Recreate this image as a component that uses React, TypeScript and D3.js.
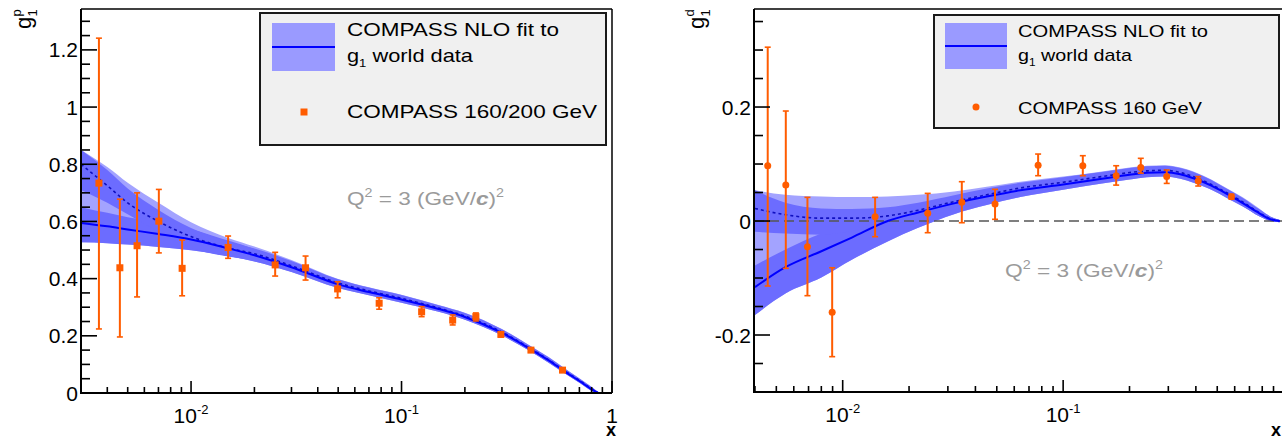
import React from 'react';
import * as d3 from 'd3';

const W = 1282;
const H = 440;

// ---------------- Left panel: g1 proton ----------------
const pX = [0.00365, 0.00459, 0.00554, 0.00703, 0.00907, 0.0150, 0.0251, 0.0350, 0.0497, 0.0783, 0.1246, 0.175, 0.2255, 0.2965, 0.412, 0.582];
const pY = [0.734, 0.438, 0.515, 0.601, 0.436, 0.509, 0.448, 0.438, 0.364, 0.314, 0.284, 0.255, 0.267, 0.205, 0.150, 0.080];
const pHi = [1.241, 0.678, 0.700, 0.712, 0.535, 0.549, 0.492, 0.479, 0.389, 0.333, 0.302, 0.273, 0.280, 0.214, 0.157, 0.085];
const pLo = [0.224, 0.196, 0.336, 0.490, 0.340, 0.471, 0.409, 0.395, 0.333, 0.293, 0.267, 0.238, 0.252, 0.196, 0.143, 0.075];

const pFitX = [0.003, 0.004, 0.005, 0.007, 0.01, 0.015, 0.02, 0.03, 0.05, 0.07, 0.1, 0.15, 0.2, 0.3, 0.4, 0.5, 0.6, 0.7, 0.8, 0.86];
const pSolid = [0.595, 0.583, 0.572, 0.556, 0.537, 0.506, 0.482, 0.44, 0.38, 0.353, 0.327, 0.294, 0.266, 0.21, 0.158, 0.114, 0.074, 0.042, 0.013, 0.0];
const pSolidLo = [0.527, 0.524, 0.519, 0.511, 0.499, 0.479, 0.46, 0.423, 0.367, 0.342, 0.316, 0.284, 0.256, 0.201, 0.15, 0.106, 0.067, 0.036, 0.008, -0.002];
const pSolidHi = [0.65, 0.63, 0.615, 0.597, 0.573, 0.533, 0.504, 0.457, 0.393, 0.364, 0.338, 0.304, 0.276, 0.219, 0.166, 0.122, 0.081, 0.048, 0.019, 0.003];
const pDashed = [0.80, 0.725, 0.665, 0.60, 0.547, 0.507, 0.487, 0.445, 0.385, 0.357, 0.331, 0.297, 0.269, 0.213, 0.16, 0.116, 0.076, 0.044, 0.015, 0.0];
const pDashedLo = [0.71, 0.665, 0.625, 0.565, 0.507, 0.477, 0.462, 0.425, 0.37, 0.344, 0.319, 0.286, 0.258, 0.203, 0.151, 0.107, 0.068, 0.037, 0.008, -0.002];
const pDashedHi = [0.85, 0.78, 0.715, 0.64, 0.577, 0.53, 0.505, 0.462, 0.398, 0.369, 0.343, 0.307, 0.28, 0.223, 0.169, 0.125, 0.084, 0.051, 0.021, 0.003];
const pEnvHi = [0.85, 0.79, 0.735, 0.665, 0.597, 0.542, 0.512, 0.465, 0.399, 0.37, 0.344, 0.308, 0.281, 0.224, 0.17, 0.126, 0.085, 0.052, 0.022, 0.003];

const pYTicks = [0, 0.2, 0.4, 0.6, 0.8, 1, 1.2];
const pYLabels = ['0', '0.2', '0.4', '0.6', '0.8', '1', '1.2'];

// ---------------- Right panel: g1 deuteron ----------------
const dX = [0.00457, 0.00552, 0.00692, 0.00896, 0.01403, 0.0243, 0.0347, 0.0491, 0.077, 0.1228, 0.174, 0.225, 0.295, 0.41, 0.58];
const dY = [0.097, 0.063, -0.045, -0.160, 0.0076, 0.0135, 0.0328, 0.0298, 0.098, 0.097, 0.0795, 0.094, 0.078, 0.070, 0.0427];
const dHi = [0.305, 0.193, 0.0415, -0.082, 0.0415, 0.0485, 0.069, 0.0556, 0.1175, 0.1146, 0.097, 0.11, 0.0895, 0.078, 0.047];
const dLo = [-0.114, -0.083, -0.131, -0.238, -0.0275, -0.0205, -0.003, 0.003, 0.0795, 0.0795, 0.063, 0.084, 0.066, 0.0614, 0.0385];

const dFitX = [0.004, 0.0055, 0.008, 0.011, 0.016, 0.022, 0.032, 0.045, 0.064, 0.1, 0.15, 0.2, 0.24, 0.29, 0.34, 0.39, 0.47, 0.55, 0.65, 0.78, 0.87, 0.96];
const dSolid = [-0.116, -0.081, -0.053, -0.029, 0.0, 0.015, 0.031, 0.043, 0.054, 0.064, 0.074, 0.081, 0.0845, 0.0855, 0.082, 0.075, 0.062, 0.048, 0.032, 0.013, 0.003, 0.0];
const dSolidLo = [-0.165, -0.127, -0.099, -0.068, -0.036, -0.012, 0.012, 0.028, 0.042, 0.055, 0.066, 0.073, 0.077, 0.078, 0.074, 0.067, 0.055, 0.041, 0.026, 0.008, 0.0, -0.002];
const dSolidHi = [-0.078, -0.05, -0.022, -0.004, 0.018, 0.03, 0.042, 0.052, 0.062, 0.072, 0.081, 0.088, 0.092, 0.093, 0.089, 0.082, 0.069, 0.055, 0.038, 0.018, 0.007, 0.002];
const dDashed = [0.022, 0.011, 0.005, 0.005, 0.009, 0.019, 0.034, 0.046, 0.058, 0.068, 0.078, 0.085, 0.088, 0.089, 0.085, 0.078, 0.064, 0.05, 0.034, 0.014, 0.004, 0.0];
const dDashedLo = [-0.019, -0.022, -0.024, -0.018, -0.008, 0.004, 0.02, 0.034, 0.047, 0.059, 0.07, 0.077, 0.08, 0.081, 0.077, 0.07, 0.057, 0.043, 0.027, 0.008, 0.0, -0.002];
const dDashedHi = [0.054, 0.032, 0.022, 0.021, 0.024, 0.032, 0.045, 0.057, 0.067, 0.077, 0.086, 0.093, 0.096, 0.097, 0.093, 0.086, 0.072, 0.057, 0.041, 0.02, 0.008, 0.002];
const dEnvHi = [0.054, 0.046, 0.043, 0.042, 0.043, 0.046, 0.052, 0.06, 0.069, 0.078, 0.087, 0.094, 0.097, 0.098, 0.094, 0.087, 0.073, 0.058, 0.042, 0.021, 0.008, 0.002];

const dYTicks = [-0.2, 0, 0.2];
const dYLabels = ['-0.2', '0', '0.2'];

const xTickLabels = [
  { v: 0.01, base: '10', exp: '-2' },
  { v: 0.1, base: '10', exp: '-1' },
  { v: 1, base: '1', exp: '' },
];

const FONT = '"Liberation Sans", Arial, Helvetica, sans-serif';
const ORANGE = '#ff5c00';
const BAND = '#6c6cff';
const BAND_LIGHT = '#a3a3ff';
const LEG_SWATCH = '#9a9aff';
const LINE_BLUE = '#0000ff';
const DASH_BLUE = '#1010c0';
const GREY = '#9a9a9a';

type Cfg = {
  id: string;
  x0: number; x1: number; y0: number; y1: number;
  xDomain: [number, number]; yDomain: [number, number];
  yTicks: number[]; yLabels: string[]; yMinorStep: number;
  title: string;
  titleX: number;
  px: number[]; py: number[]; pHi: number[]; pLo: number[];
  marker: 'square' | 'circle';
  fitX: number[]; solid: number[]; solidLo: number[]; solidHi: number[];
  dashed: number[]; dashedLo: number[]; dashedHi: number[]; envHi: number[];
  zeroLine: boolean;
  legend: { x: number; y: number; w: number; h: number; fs: number; sw: [number, number, number, number];
    tx: number; b1: number; b2: number; b3: number; my: number; mx: number; l1: number; l2: number; l3: number; label3: string };
  q2: { x: number; y: number; len: number };
};

const leftCfg: Cfg = {
  id: 'L', x0: 81, x1: 612, y0: 9, y1: 393,
  xDomain: [0.003, 1], yDomain: [0, 1.343],
  yTicks: pYTicks, yLabels: pYLabels, yMinorStep: 0.05,
  title: 'p', titleX: 31,
  px: pX, py: pY, pHi: pHi, pLo: pLo, marker: 'square',
  fitX: pFitX, solid: pSolid, solidLo: pSolidLo, solidHi: pSolidHi,
  dashed: pDashed, dashedLo: pDashedLo, dashedHi: pDashedHi, envHi: pEnvHi,
  zeroLine: false,
  legend: { x: 260, y: 13, w: 346, h: 132, fs: 18.5, sw: [272, 23, 63, 48], tx: 347, b1: 36, b2: 62, b3: 118,
    my: 112, mx: 304, l1: 212, l2: 126, l3: 250, label3: 'COMPASS 160/200 GeV' },
  q2: { x: 347, y: 205, len: 157 },
};

const rightCfg: Cfg = {
  id: 'R', x0: 754, x1: 1283.6, y0: 9, y1: 392,
  xDomain: [0.00396, 1], yDomain: [-0.3, 0.372],
  yTicks: dYTicks, yLabels: dYLabels, yMinorStep: 0.05,
  title: 'd', titleX: 704,
  px: dX, py: dY, pHi: dHi, pLo: dLo, marker: 'circle',
  fitX: dFitX, solid: dSolid, solidLo: dSolidLo, solidHi: dSolidHi,
  dashed: dDashed, dashedLo: dDashedLo, dashedHi: dDashedHi, envHi: dEnvHi,
  zeroLine: true,
  legend: { x: 934, y: 15, w: 345, h: 113, fs: 17, sw: [945, 23, 62, 46], tx: 1018, b1: 37, b2: 61, b3: 114,
    my: 107, mx: 976, l1: 190, l2: 114, l3: 184, label3: 'COMPASS 160 GeV' },
  q2: { x: 1005, y: 277, len: 158 },
};

function Panel({ c }: { c: Cfg }) {
  const xs = d3.scaleLog().domain(c.xDomain).range([c.x0, c.x1]);
  const ys = d3.scaleLinear().domain(c.yDomain).range([c.y1, c.y0]);
  const fit = c.fitX.map((x, i) => ({
    x, s: c.solid[i], sLo: c.solidLo[i], sHi: c.solidHi[i],
    d: c.dashed[i], dLo: c.dashedLo[i], dHi: c.dashedHi[i], eHi: c.envHi[i],
  }));
  const area = (lo: string, hi: string) =>
    d3.area<any>().x((d) => xs(d.x)).y0((d) => ys(d[lo])).y1((d) => ys(d[hi])).curve(d3.curveMonotoneX)(fit) || '';
  const line = (k: string) =>
    d3.line<any>().x((d) => xs(d.x)).y((d) => ys(d[k])).curve(d3.curveMonotoneX)(fit) || '';

  const clipId = 'clip' + c.id;
  const rightEdge = Math.min(c.x1, W);
  const xTicks = xs.ticks().filter((v) => v >= c.xDomain[0] * 0.999 && v <= c.xDomain[1] * 1.001);
  const isMajor = (v: number) => Math.abs(Math.log10(v) - Math.round(Math.log10(v))) < 1e-6;
  const yMinor = d3.range(Math.ceil(c.yDomain[0] / c.yMinorStep - 1e-6), Math.floor(c.yDomain[1] / c.yMinorStep + 1e-6) + 1)
    .map((k) => k * c.yMinorStep);
  const L = c.legend;

  return (
    <g>
      <defs>
        <clipPath id={clipId}>
          <rect x={c.x0} y={c.y0} width={rightEdge - c.x0} height={c.y1 - c.y0} />
        </clipPath>
      </defs>
      <g clipPath={`url(#${clipId})`}>
        <path d={area('sLo', 'eHi')} fill={BAND_LIGHT} />
        <path d={area('sLo', 'sHi')} fill={BAND} />
        <path d={area('dLo', 'dHi')} fill={BAND} />
        {c.zeroLine && (
          <line x1={c.x0} x2={rightEdge} y1={ys(0)} y2={ys(0)} stroke="#555" strokeWidth={1.6} strokeDasharray="10,5" />
        )}
        <path d={line('d')} fill="none" stroke={DASH_BLUE} strokeWidth={1.6} strokeDasharray="3,3" />
        <path d={line('s')} fill="none" stroke={LINE_BLUE} strokeWidth={2} />
        {c.px.map((x, i) => {
          const cx = xs(x);
          return (
            <g key={i}>
              <line x1={cx} x2={cx} y1={ys(c.pHi[i])} y2={ys(c.pLo[i])} stroke={ORANGE} strokeWidth={2} />
              <line x1={cx - 3} x2={cx + 3} y1={ys(c.pHi[i])} y2={ys(c.pHi[i])} stroke={ORANGE} strokeWidth={1.6} />
              <line x1={cx - 3} x2={cx + 3} y1={ys(c.pLo[i])} y2={ys(c.pLo[i])} stroke={ORANGE} strokeWidth={1.6} />
              {c.marker === 'square' ? (
                <rect x={cx - 3.5} y={ys(c.py[i]) - 3.5} width={7} height={7} fill={ORANGE} />
              ) : (
                <circle cx={cx} cy={ys(c.py[i])} r={3.5} fill={ORANGE} />
              )}
            </g>
          );
        })}
      </g>

      {/* frame */}
      <line x1={c.x0} x2={rightEdge} y1={c.y0} y2={c.y0} stroke="#000" strokeWidth={1.5} />
      {c.x1 <= W && <line x1={c.x1} x2={c.x1} y1={c.y0} y2={c.y1} stroke="#000" strokeWidth={1.5} />}
      <line x1={c.x0} x2={c.x0} y1={c.y0} y2={c.y1 + 1} stroke="#000" strokeWidth={2} />
      <line x1={c.x0} x2={rightEdge} y1={c.y1} y2={c.y1} stroke="#000" strokeWidth={2} />

      {/* y ticks */}
      {yMinor.map((v, i) => {
        const major = c.yTicks.some((t) => Math.abs(t - v) < 1e-6);
        return <line key={i} x1={c.x0} x2={c.x0 + (major ? 16 : 9)} y1={ys(v)} y2={ys(v)} stroke="#000" strokeWidth={1.6} />;
      })}
      {c.yTicks.map((v, i) => (
        <text key={i} x={c.x0 - 3} y={ys(v) + 7.5} textAnchor="end" fontSize={21} fill="#000">{c.yLabels[i]}</text>
      ))}

      {/* x ticks */}
      {xTicks.map((v, i) => (
        <line key={i} x1={xs(v)} x2={xs(v)} y1={c.y1} y2={c.y1 - (isMajor(v) ? 12 : 6)} stroke="#000" strokeWidth={1.6} />
      ))}
      {xTickLabels.map((t, i) => {
        const cx = xs(t.v);
        if (cx > W - 4) return null;
        return (
          <text key={i} x={cx} y={c.y1 + 30} textAnchor="middle" fontSize={21} fill="#000">
            {t.base}
            {t.exp && <tspan fontSize={13} dy={-9}>{t.exp}</tspan>}
          </text>
        );
      })}
      <text x={Math.min(c.x1 + 4, W - 1)} y={436} textAnchor="end" fontSize={18} fontWeight="bold" fill="#000">x</text>

      {/* y title */}
      <g transform={`translate(${c.titleX},29) rotate(-90)`}>
        <text x={0} y={0} fontSize={22} fill="#000">g</text>
        <text x={12.5} y={6} fontSize={13} fill="#000">1</text>
        <text x={12.5} y={-10} fontSize={13} fill="#000">{c.title}</text>
      </g>

      {/* Q2 label */}
      <text x={c.q2.x} y={c.q2.y} fontSize={19} fill={GREY} textLength={c.q2.len} lengthAdjust="spacingAndGlyphs">
        Q<tspan fontSize={12} dy={-8}>2</tspan><tspan dy={8}> = 3 (GeV/</tspan>
        <tspan fontWeight="bold" fontStyle="italic">c</tspan>)<tspan fontSize={12} dy={-8}>2</tspan>
      </text>

      {/* legend */}
      <rect x={L.x} y={L.y} width={L.w} height={L.h} fill="#f0f0f0" stroke="#1a1a1a" strokeWidth={2} />
      <rect x={L.sw[0]} y={L.sw[1]} width={L.sw[2]} height={L.sw[3]} fill={LEG_SWATCH} />
      <line x1={L.sw[0]} x2={L.sw[0] + L.sw[2]} y1={L.sw[1] + L.sw[3] / 2} y2={L.sw[1] + L.sw[3] / 2} stroke={LINE_BLUE} strokeWidth={2} />
      <text x={L.tx} y={L.b1} fontSize={L.fs} fill="#000" textLength={L.l1} lengthAdjust="spacingAndGlyphs">COMPASS NLO fit to</text>
      <text x={L.tx} y={L.b2} fontSize={L.fs} fill="#000" textLength={L.l2} lengthAdjust="spacingAndGlyphs">
        g<tspan fontSize={L.fs * 0.6} dy={5}>1</tspan><tspan dy={-5}> world data</tspan>
      </text>
      {c.marker === 'square' ? (
        <rect x={L.mx - 3.5} y={L.my - 3.5} width={7} height={7} fill={ORANGE} />
      ) : (
        <circle cx={L.mx} cy={L.my} r={3.5} fill={ORANGE} />
      )}
      <text x={L.tx} y={L.b3} fontSize={L.fs} fill="#000" textLength={L.l3} lengthAdjust="spacingAndGlyphs">{L.label3}</text>
    </g>
  );
}

export default function App() {
  return (
    <svg
      width={W}
      height={H}
      viewBox={`0 0 ${W} ${H}`}
      style={{ position: 'absolute', left: 0, top: 0, display: 'block' }}
      fontFamily={FONT}
    >
      <rect x={0} y={0} width={W} height={H} fill="#fff" />
      <Panel c={leftCfg} />
      <Panel c={rightCfg} />
    </svg>
  );
}
